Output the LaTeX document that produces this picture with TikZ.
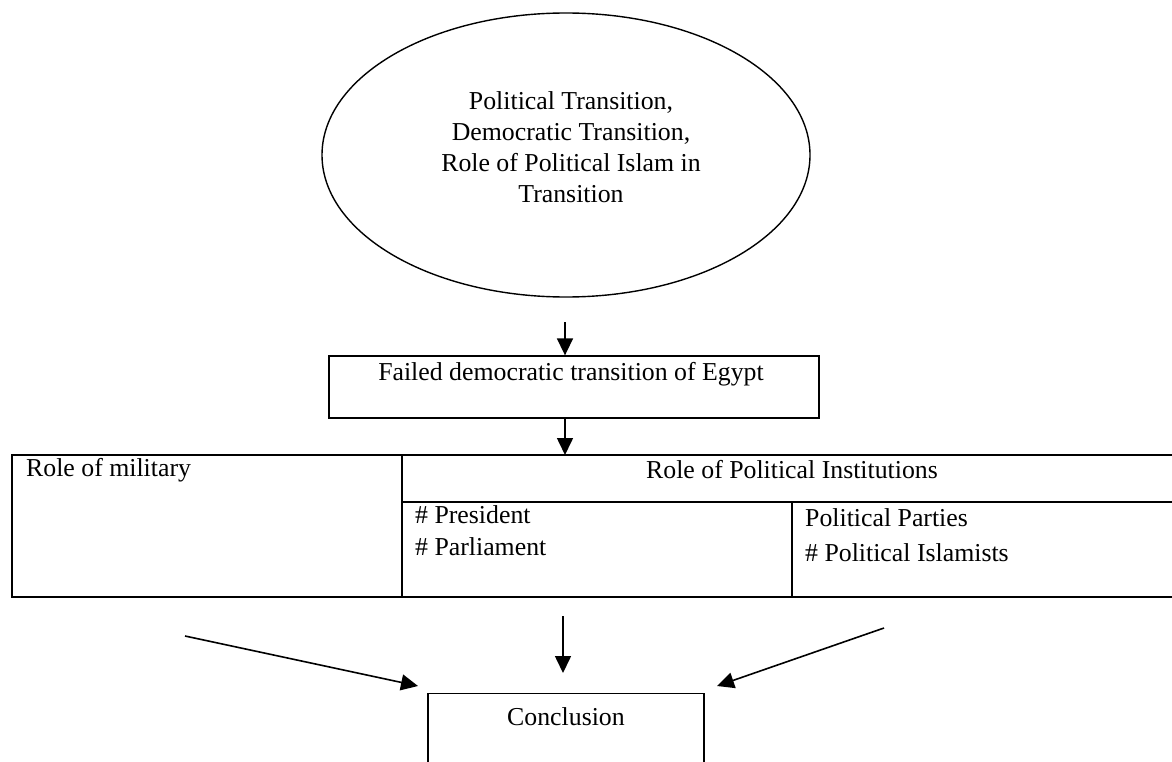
\documentclass[tikz,border=0pt]{standalone}
\usepackage{fontspec}
\setmainfont{Liberation Serif}
\usetikzlibrary{arrows.meta,shapes.geometric}
\begin{document}
\begin{tikzpicture}[x=1pt,y=-1pt,
  box/.style={draw, line width=1.3pt, inner sep=0pt},
  lbl/.style={font=\fontsize{25.8}{31}\selectfont, inner sep=0pt},
  arr/.style={line width=1.6pt, -{Triangle[length=17pt,width=16pt]}},
  tablerule/.style={line width=1.9pt}]
\useasboundingbox (0,0) rectangle (1172,762);
\clip (0,0) rectangle (1172,762);

% topic ellipse
\node[draw, ellipse, line width=1.4pt, minimum width=488pt, minimum height=284pt, inner sep=0pt] (topic) at (566,155) {};
\node[lbl, align=center] (topictext) at (571,147)
  {Political Transition,\\Democratic Transition,\\Role of Political Islam in\\Transition};

% case box
\node[box, minimum width=490pt, minimum height=62pt] (failed) at (574,387) {};
\node[lbl] (failedtext) at (571,374) {Failed democratic transition of Egypt};

% analysis table
\coordinate (tabtl) at (12,455);
\coordinate (tabbr) at (1185,597);
\draw[tablerule] (tabtl) rectangle (tabbr);
\draw[tablerule] (402,455) -- (402,597);
\draw[tablerule] (402,502) -- (1185,502);
\draw[tablerule] (792,502) -- (792,597);
\node[lbl, anchor=west] (military) at (26,470) {Role of military};
\node[lbl] (institutions) at (792,470) {Role of Political Institutions};
\node[lbl, anchor=west] (president) at (415,515) {\# President};
\node[lbl, anchor=west] (parliament) at (415,547) {\# Parliament};
\node[lbl, anchor=west] (parties) at (805,518) {Political Parties};
\node[lbl, anchor=west] (islamists) at (805,553) {\# Political Islamists};

% conclusion box
\node[box, minimum width=276pt, minimum height=100pt, anchor=north] (concl) at (566,693) {};
\node[lbl] (concltext) at (566,717) {Conclusion};

% connectors
\coordinate (a1) at (565,322);
\draw[arr] (a1) -- (a1 |- failed.north);
\draw[arr] (a1 |- failed.south) -- (a1 |- tabtl);

\coordinate (l0) at (185,636);
\coordinate (l1) at (418,686);
\coordinate (m0) at (563,616);
\coordinate (m1) at (563,673);
\coordinate (r0) at (884,628);
\coordinate (r1) at (717,686);
\draw[arr] (l0) -- (l1);
\draw[arr] (m0) -- (m1);
\draw[arr] (r0) -- (r1);
\end{tikzpicture}
\end{document}
